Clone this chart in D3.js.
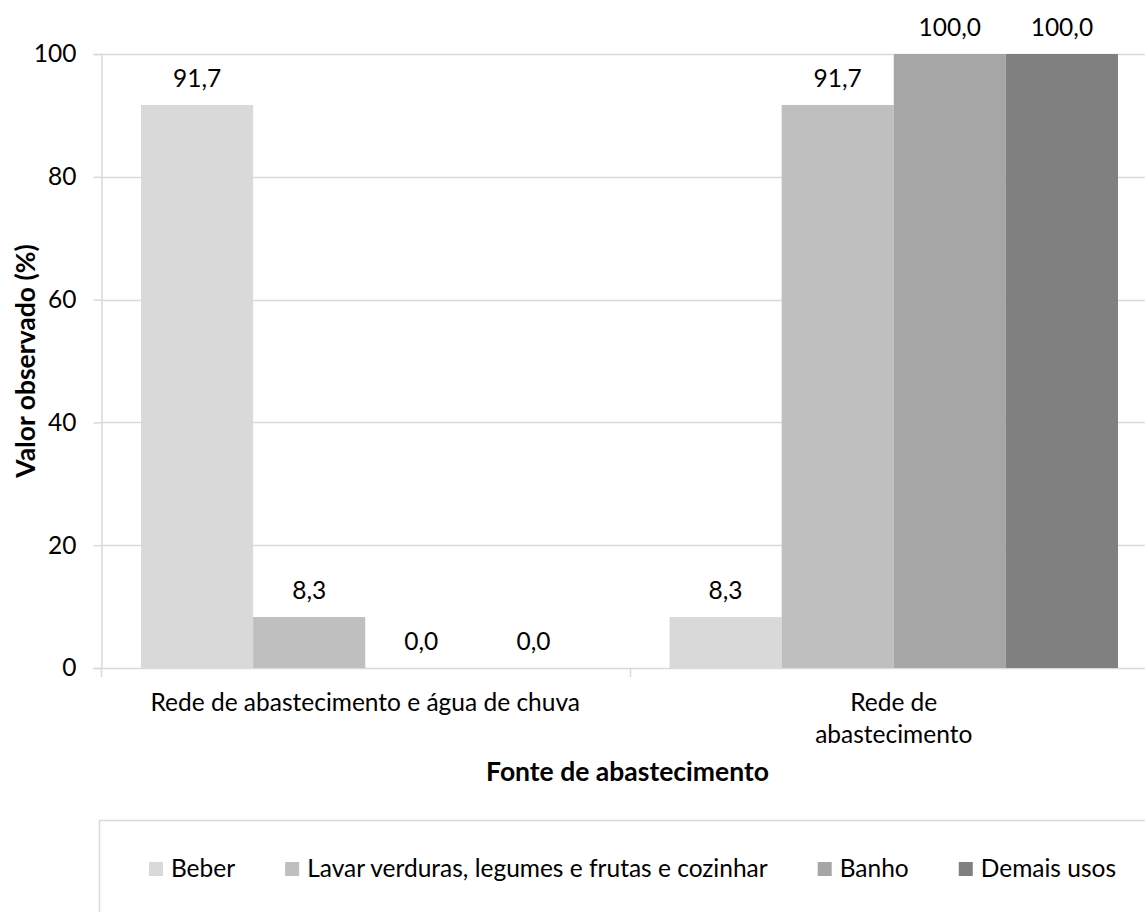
<!DOCTYPE html>
<html>
<head>
<meta charset="utf-8">
<script src="https://cdn.jsdelivr.net/npm/d3@7"></script>
<style>
  html, body { margin: 0; padding: 0; background: #fff; overflow: hidden; }
  text { font-family: Lato, "Noto Sans", sans-serif; fill: #000; }
</style>
</head>
<body>
<svg id="chart" width="1145" height="912"></svg>
<script>
// ---- data ----
const categories = ["Rede de abastecimento e água de chuva", "Rede de\nabastecimento"];
const series = ["Beber", "Lavar verduras, legumes e frutas e cozinhar", "Banho", "Demais usos"];
const beber = [91.7, 8.3];
const lavar = [8.3, 91.7];
const banho = [0.0, 100.0];
const demais = [0.0, 100.0];
const yTicks = [0, 20, 40, 60, 80, 100];
const colors = ["#d9d9d9", "#bfbfbf", "#a6a6a6", "#808080"];
const yTitle = "Valor observado (%)";
const xTitle = "Fonte de abastecimento";

const seriesValues = [beber, lavar, banho, demais];
const fmt = v => d3.format(".1f")(v).replace(".", ",");

const W = 1145, H = 912;
const svg = d3.select("#chart");
svg.append("rect").attr("width", W).attr("height", H).attr("fill", "#fff");

const pL = 101, pR = 1158, pT = 54, pB = 668;
const FS = 24.5;
const FSB = 26.5;

const x0 = d3.scaleBand().domain(categories).range([pL, pR]).paddingInner(0).paddingOuter(0);
const x1 = d3.scaleBand().domain(series).range([0, x0.bandwidth()]).paddingInner(0).paddingOuter(0.357);
const y = d3.scaleLinear().domain([0, 100]).range([pB, pT]);

const grid = "#d9d9d9";

// gridlines
svg.append("g").selectAll("line").data(yTicks).join("line")
  .attr("x1", pL).attr("x2", pR)
  .attr("y1", d => Math.round(y(d)) + 0.5).attr("y2", d => Math.round(y(d)) + 0.5)
  .attr("stroke", grid).attr("stroke-width", 1.5);

// y axis
const yAxis = d3.axisLeft(y).tickValues(yTicks).tickSize(8).tickPadding(17).tickFormat(d3.format("d"));
const gy = svg.append("g").attr("transform", `translate(${pL + 0.5},0)`).call(yAxis);
gy.select(".domain").attr("stroke", grid).attr("stroke-width", 1.5);
gy.selectAll(".tick line").attr("stroke", grid).attr("stroke-width", 1.5);
gy.selectAll(".tick text").attr("font-size", FS).attr("font-family", "Lato").attr("fill", "#000");

// bars
const groups = svg.append("g").selectAll("g").data(categories).join("g")
  .attr("transform", d => `translate(${x0(d)},0)`);

groups.selectAll("rect")
  .data((c, ci) => series.map((s, si) => ({ s, si, v: seriesValues[si][ci] })))
  .join("rect")
  .attr("x", d => x1(d.s))
  .attr("width", x1.bandwidth())
  .attr("y", d => y(d.v))
  .attr("height", d => y(0) - y(d.v))
  .attr("fill", d => colors[d.si]);

groups.selectAll("text.lbl")
  .data((c, ci) => series.map((s, si) => ({ s, si, v: seriesValues[si][ci] })))
  .join("text").attr("class", "lbl")
  .attr("x", d => x1(d.s) + x1.bandwidth() / 2)
  .attr("y", d => y(d.v) - 18)
  .attr("text-anchor", "middle")
  .attr("font-size", FS)
  .text(d => fmt(d.v));

// x axis ticks
const xAxisTicks = [pL, ...categories.map(c => x0(c) + x0.bandwidth())];
svg.append("g").selectAll("line").data(xAxisTicks).join("line")
  .attr("x1", d => Math.round(d) + 0.5).attr("x2", d => Math.round(d) + 0.5)
  .attr("y1", pB).attr("y2", pB + 9)
  .attr("stroke", grid).attr("stroke-width", 1.5);

const catG = svg.append("g");
categories.forEach(c => {
  const lines = c.split("\n");
  const cxm = x0(c) + x0.bandwidth() / 2;
  const t = catG.append("text")
    .attr("x", cxm)
    .attr("y", 711)
    .attr("text-anchor", "middle")
    .attr("font-size", FS);
  lines.forEach((ln, i) => {
    t.append("tspan").attr("x", cxm).attr("dy", i === 0 ? 0 : 32).text(ln);
  });
});

// axis titles
svg.append("text")
  .attr("x", (pL + pR) / 2 - 2)
  .attr("y", 781)
  .attr("text-anchor", "middle")
  .attr("font-size", FSB)
  .attr("font-weight", "bold")
  .text(xTitle);

svg.append("text")
  .attr("transform", `translate(35,${(pT + pB) / 2}) rotate(-90)`)
  .attr("text-anchor", "middle")
  .attr("font-size", FSB)
  .attr("font-weight", "bold")
  .text(yTitle);

// legend
svg.append("rect")
  .attr("x", 99.5).attr("y", 820.5)
  .attr("width", 1200).attr("height", 200)
  .attr("fill", "none").attr("stroke", grid).attr("stroke-width", 1.5);

const lg = svg.append("g");
let cx = 0;
series.forEach((s, i) => {
  const g = lg.append("g");
  g.append("rect").attr("x", 0).attr("y", -15).attr("width", 14).attr("height", 14).attr("fill", colors[i]);
  const t = g.append("text").attr("x", 22).attr("y", 0).attr("font-size", FS).text(s);
  const w = 22 + t.node().getComputedTextLength();
  g.attr("transform", `translate(${cx},0)`);
  cx += w + 50;
});
const totalW = cx - 50;
lg.attr("transform", `translate(${632.5 - totalW / 2},877)`);
</script>
</body>
</html>
